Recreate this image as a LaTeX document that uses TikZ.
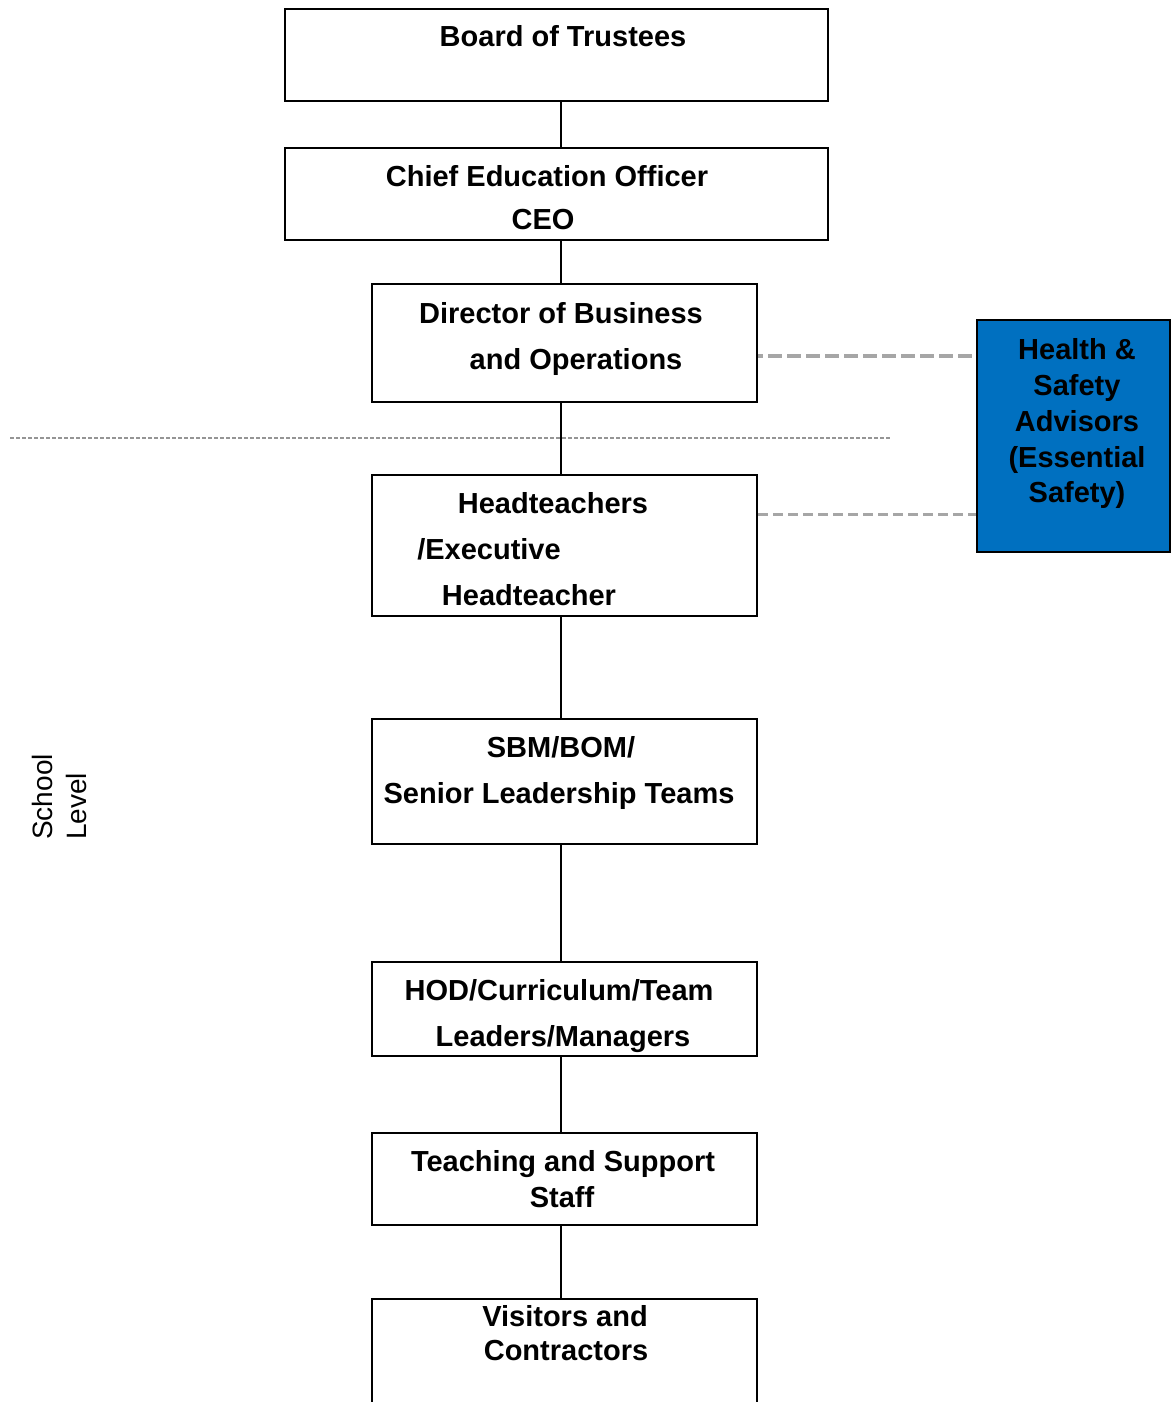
\documentclass[tikz,border=0pt]{standalone}
\usepackage{fontspec}
\setmainfont{Liberation Sans}
\definecolor{hsblue}{HTML}{0070C0}
\definecolor{dashgray}{HTML}{A6A6A6}
\begin{document}
\begin{tikzpicture}[x=1pt,y=-1pt,
  box/.style={draw=black,line width=2pt,inner sep=0pt,fill=white},
  t/.style={font=\fontsize{29}{34}\selectfont\bfseries,anchor=base,inner sep=0pt},
  rt/.style={font=\fontsize{28}{34}\selectfont,anchor=base west,inner sep=0pt,rotate=90},
  link/.style={draw=black,line width=2pt},
  dashA/.style={draw=dashgray,line width=4pt,dash pattern=on 14pt off 5pt,dash phase=9pt},
  dashB/.style={draw=dashgray,line width=3pt,dash pattern=on 10pt off 5pt},
  dotline/.style={draw=dashgray!90!black,line width=2.5pt,dash pattern=on 4pt off 2pt}]
\clip (0,0) rectangle (1171,1402);
\fill[white] (0,0) rectangle (1171,1402);

% level divider
\coordinate (dl) at (10,438);
\coordinate (dr) at (890,438);
\draw[dotline] (dl) -- (dr);

% boxes
\node[box,minimum width=543pt,minimum height=92pt] (board) at (556.5,55) {};
\node[box,minimum width=543pt,minimum height=92pt] (chief) at (556.5,194) {};
\node[box,minimum width=385pt,minimum height=118pt] (dir) at (564.5,343) {};
\node[box,minimum width=385pt,minimum height=141pt] (head) at (564.5,545.5) {};
\node[box,minimum width=385pt,minimum height=125pt] (sbm) at (564.5,781.5) {};
\node[box,minimum width=385pt,minimum height=94pt] (hod) at (564.5,1009) {};
\node[box,minimum width=385pt,minimum height=92pt] (teach) at (564.5,1179) {};
\node[box,minimum width=385pt,minimum height=161pt] (vis) at (564.5,1379.5) {};
\node[box,fill=hsblue,minimum width=193pt,minimum height=232pt] (hs) at (1073.5,436) {};

% connectors
\draw[link] (board.south -| 561,0) -- (chief.north -| 561,0);
\draw[link] (chief.south -| 561,0) -- (dir.north -| 561,0);
\draw[link] (dir.south -| 561,0) -- (head.north -| 561,0);
\draw[link] (head.south -| 561,0) -- (sbm.north -| 561,0);
\draw[link] (sbm.south -| 561,0) -- (hod.north -| 561,0);
\draw[link] (hod.south -| 561,0) -- (teach.north -| 561,0);
\draw[link] (teach.south -| 561,0) -- (vis.north -| 561,0);
\draw[dashA] (dir.east |- 0,356) -- (hs.west |- 0,356);
\draw[dashB] (head.east |- 0,514) -- (hs.west |- 0,514);

% texts
\node[t] (tb1) at (563,47) {Board of Trustees};
\node[t] (tc1) at (547,186) {Chief Education Officer};
\node[t] (tc2) at (543,229) {CEO};
\node[t] (td1) at (561,323) {Director of Business};
\node[t] (td2) at (576,369) {and Operations};
\node[t] (th1) at (553,513) {Headteachers};
\node[t] (th2) at (489,559) {/Executive};
\node[t] (th3) at (529,605) {Headteacher};
\node[t] (ts1) at (561,757) {SBM/BOM/};
\node[t] (ts2) at (559,803) {Senior Leadership Teams};
\node[t] (to1) at (559,1000) {HOD/Curriculum/Team};
\node[t] (to2) at (563,1046) {Leaders/Managers};
\node[t] (tt1) at (563,1171) {Teaching and Support};
\node[t] (tt2) at (562,1207) {Staff};
\node[t] (tv1) at (565,1326) {Visitors and};
\node[t] (tv2) at (566,1360) {Contractors};
\node[t] (hs1) at (1077,359) {Health \&};
\node[t] (hs2) at (1077,395) {Safety};
\node[t] (hs3) at (1077,431) {Advisors};
\node[t] (hs4) at (1077,467) {(Essential};
\node[t] (hs5) at (1077,502) {Safety)};
\node[rt] (sl1) at (52,840) {School};
\node[rt] (sl2) at (86,840) {Level};
\end{tikzpicture}
\end{document}
